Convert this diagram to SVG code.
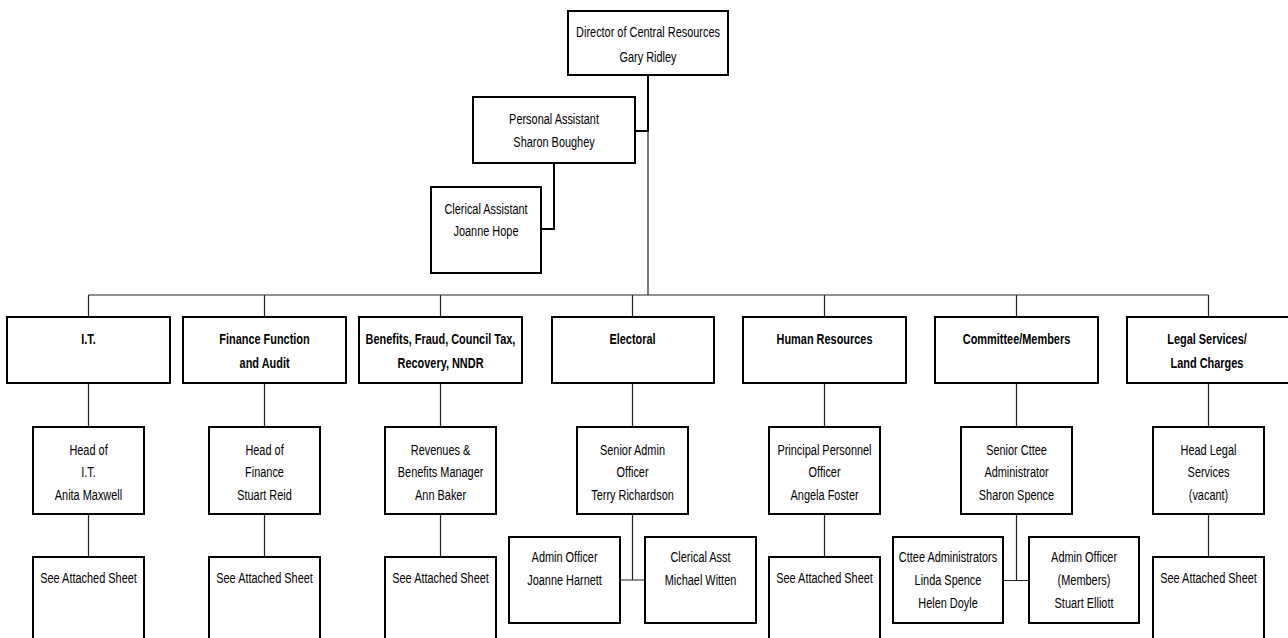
<svg xmlns="http://www.w3.org/2000/svg" width="1288" height="638" viewBox="0 0 1288 638">
<style>
  .box { fill: #ffffff; stroke: #000000; stroke-width: 2; }
  .c { fill: none; stroke: #222222; stroke-width: 1.2; }
  .ct { fill: none; stroke: #000000; stroke-width: 2; }
  text { font-family: "Liberation Sans Narrow", "Arial Narrow", "Liberation Sans", Arial, sans-serif; font-size: 15.5px; fill: #000000; text-anchor: middle; transform-box: fill-box; transform-origin: center; transform: scaleX(0.705); }
  .b { font-weight: bold; }
</style>
<rect width="1288" height="638" fill="#ffffff"/>
<g id="connectors">
  <path class="ct" d="M648 75 V131 H635"/>
  <path class="c" d="M648 131 V295"/>
  <path class="ct" d="M554 163 V229 H541"/>
  <path class="c" d="M88.5 295 H1208.5"/>
  <path class="c" d="M88.5 295 V317 M264.5 295 V317 M440.5 295 V317 M632.5 295 V317 M824.5 295 V317 M1016.5 295 V317 M1208.5 295 V317"/>
  <path class="c" d="M88.5 383 V427 M264.5 383 V427 M440.5 383 V427 M632.5 383 V427 M824.5 383 V427 M1016.5 383 V427 M1208.5 383 V427"/>
  <path class="c" d="M88.5 514 V557 M264.5 514 V557 M440.5 514 V557 M824.5 514 V557 M1208.5 514 V557"/>
  <path class="c" d="M632.5 514 V580 M620 580 H645"/>
  <path class="c" d="M1016.5 514 V580.5 M1003 580.5 H1029"/>
</g>
<g id="director">
  <rect class="box" x="568" y="11" width="160" height="64"/>
  <text x="648" y="37.5">Director of Central Resources</text>
  <text x="648" y="62">Gary Ridley</text>
</g>
<g id="pa">
  <rect class="box" x="473" y="97" width="162" height="66"/>
  <text x="554" y="124">Personal Assistant</text>
  <text x="554" y="147.5">Sharon Boughey</text>
</g>
<g id="clerical-assistant">
  <rect class="box" x="431" y="187" width="110" height="86"/>
  <text x="486" y="214">Clerical Assistant</text>
  <text x="486" y="236.5">Joanne Hope</text>
</g>
<g id="dept-it">
  <rect class="box" x="7" y="317" width="163" height="66"/>
  <text class="b" x="88.5" y="344">I.T.</text>
</g>
<g id="dept-finance">
  <rect class="box" x="183" y="317" width="163" height="66"/>
  <text class="b" x="264.5" y="344">Finance Function</text>
  <text class="b" x="264.5" y="368.5">and Audit</text>
</g>
<g id="dept-benefits">
  <rect class="box" x="359" y="317" width="163" height="66"/>
  <text class="b" x="440.5" y="344">Benefits, Fraud, Council Tax,</text>
  <text class="b" x="440.5" y="368.5">Recovery, NNDR</text>
</g>
<g id="dept-electoral">
  <rect class="box" x="552" y="317" width="162" height="66"/>
  <text class="b" x="632.5" y="344">Electoral</text>
</g>
<g id="dept-hr">
  <rect class="box" x="743" y="317" width="163" height="66"/>
  <text class="b" x="824.5" y="344">Human Resources</text>
</g>
<g id="dept-committee">
  <rect class="box" x="935" y="317" width="163" height="66"/>
  <text class="b" x="1016.5" y="344">Committee/Members</text>
</g>
<g id="dept-legal">
  <rect class="box" x="1127" y="317" width="163" height="66"/>
  <text class="b" x="1207" y="344">Legal Services/</text>
  <text class="b" x="1207" y="368.5">Land Charges</text>
</g>
<g id="head-it">
  <rect class="box" x="33" y="427" width="111" height="87"/>
  <text x="88.5" y="455">Head of</text>
  <text x="88.5" y="477.5">I.T.</text>
  <text x="88.5" y="500">Anita Maxwell</text>
</g>
<g id="head-finance">
  <rect class="box" x="209" y="427" width="111" height="87"/>
  <text x="264.5" y="455">Head of</text>
  <text x="264.5" y="477.5">Finance</text>
  <text x="264.5" y="500">Stuart Reid</text>
</g>
<g id="head-benefits">
  <rect class="box" x="385" y="427" width="111" height="87"/>
  <text x="440.5" y="455">Revenues &amp;</text>
  <text x="440.5" y="477.5">Benefits Manager</text>
  <text x="440.5" y="500">Ann Baker</text>
</g>
<g id="head-electoral">
  <rect class="box" x="577" y="427" width="111" height="87"/>
  <text x="632.5" y="455">Senior Admin</text>
  <text x="632.5" y="477.5">Officer</text>
  <text x="632.5" y="500">Terry Richardson</text>
</g>
<g id="head-hr">
  <rect class="box" x="769" y="427" width="111" height="87"/>
  <text x="824.5" y="455">Principal Personnel</text>
  <text x="824.5" y="477.5">Officer</text>
  <text x="824.5" y="500">Angela Foster</text>
</g>
<g id="head-committee">
  <rect class="box" x="961" y="427" width="111" height="87"/>
  <text x="1016.5" y="455">Senior Cttee</text>
  <text x="1016.5" y="477.5">Administrator</text>
  <text x="1016.5" y="500">Sharon Spence</text>
</g>
<g id="head-legal">
  <rect class="box" x="1153" y="427" width="111" height="87"/>
  <text x="1208.5" y="455">Head Legal</text>
  <text x="1208.5" y="477.5">Services</text>
  <text x="1208.5" y="500">(vacant)</text>
</g>
<g id="sheet-it">
  <rect class="box" x="33" y="557" width="111" height="95"/>
  <text x="88.5" y="583.5">See Attached Sheet</text>
</g>
<g id="sheet-finance">
  <rect class="box" x="209" y="557" width="111" height="95"/>
  <text x="264.5" y="583.5">See Attached Sheet</text>
</g>
<g id="sheet-benefits">
  <rect class="box" x="385" y="557" width="111" height="95"/>
  <text x="440.5" y="583.5">See Attached Sheet</text>
</g>
<g id="sheet-hr">
  <rect class="box" x="769" y="557" width="111" height="95"/>
  <text x="824.5" y="583.5">See Attached Sheet</text>
</g>
<g id="sheet-legal">
  <rect class="box" x="1153" y="557" width="111" height="95"/>
  <text x="1208.5" y="583.5">See Attached Sheet</text>
</g>
<g id="electoral-admin-officer">
  <rect class="box" x="509" y="537" width="111" height="86"/>
  <text x="564.5" y="562.5">Admin Officer</text>
  <text x="564.5" y="585.5">Joanne Harnett</text>
</g>
<g id="electoral-clerical-asst">
  <rect class="box" x="645" y="537" width="111" height="86"/>
  <text x="700.5" y="562.5">Clerical Asst</text>
  <text x="700.5" y="585.5">Michael Witten</text>
</g>
<g id="cttee-administrators">
  <rect class="box" x="893" y="537" width="110" height="86"/>
  <text x="948" y="562.5">Cttee Administrators</text>
  <text x="948" y="585.5">Linda Spence</text>
  <text x="948" y="608.5">Helen Doyle</text>
</g>
<g id="members-admin-officer">
  <rect class="box" x="1029" y="537" width="110" height="86"/>
  <text x="1084" y="562.5">Admin Officer</text>
  <text x="1084" y="585.5">(Members)</text>
  <text x="1084" y="608.5">Stuart Elliott</text>
</g>
</svg>
